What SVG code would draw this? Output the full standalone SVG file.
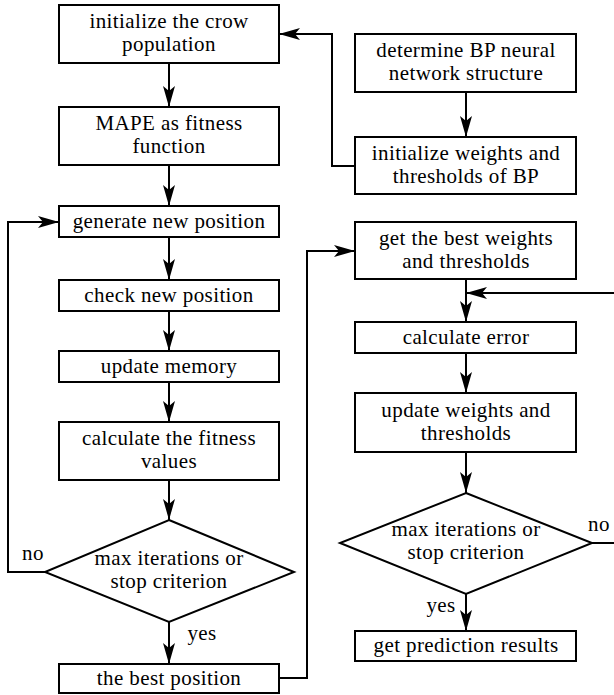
<svg xmlns="http://www.w3.org/2000/svg" width="614" height="695" viewBox="0 0 614 695">
<style>
.b{fill:#fff;stroke:#000;stroke-width:2}
.t{font-size:21px;letter-spacing:0.4px;fill:#000;text-anchor:middle}
.c{fill:none;stroke:#000;stroke-width:2;marker-end:url(#ah)}
</style>
<defs>
<marker id="ah" markerWidth="22" markerHeight="14" refX="21" refY="7" orient="auto" markerUnits="userSpaceOnUse">
<path d="M0,1 L21,7 L0,13 L5,7 Z" fill="#000"/>
</marker>
</defs>
<rect width="614" height="695" fill="#fff"/>
<g id="connectors">
<path class="c" d="M169,63 V107"/>
<path class="c" d="M169,165 V206"/>
<path class="c" d="M169,237 V280"/>
<path class="c" d="M169,311 V351"/>
<path class="c" d="M169,382 V422"/>
<path class="c" d="M169,480 V520"/>
<path class="c" d="M169,622 V664"/>
<path class="c" d="M45,572 H8 V222 H59"/>
<path class="c" d="M355,166 H332 V34 H279"/>
<path class="c" d="M466,92 V137"/>
<path class="c" d="M279,678 H307 V251 H355"/>
<path class="c" d="M466,279 V322"/>
<path class="c" d="M592,543 H616 V293 H466"/>
<path class="c" d="M466,353 V393"/>
<path class="c" d="M466,452 V493"/>
<path class="c" d="M466,594 V631"/>
</g>
<g font-family="Liberation Serif, Tinos, DejaVu Serif, Noto Serif, FreeSerif, Times New Roman, serif">
<g id="n1"><rect class="b" x="59" y="5" width="220" height="58"/><text class="t" x="169" y="28">initialize the crow</text><text class="t" x="169" y="51">population</text></g>
<g id="n2"><rect class="b" x="59" y="107" width="220" height="58"/><text class="t" x="169" y="130">MAPE as fitness</text><text class="t" x="169" y="153">function</text></g>
<g id="n3"><rect class="b" x="59" y="206" width="220" height="31"/><text class="t" x="169" y="228">generate new position</text></g>
<g id="n4"><rect class="b" x="59" y="280" width="220" height="31"/><text class="t" x="169" y="302">check new position</text></g>
<g id="n5"><rect class="b" x="59" y="351" width="220" height="31"/><text class="t" x="169" y="373">update memory</text></g>
<g id="n6"><rect class="b" x="59" y="422" width="220" height="58"/><text class="t" x="169" y="445">calculate the fitness</text><text class="t" x="169" y="468">values</text></g>
<g id="d1"><path class="b" d="M169,520 L294,572 L169,622 L45,572 Z"/><text class="t" x="169" y="565">max iterations or</text><text class="t" x="169" y="588">stop criterion</text></g>
<g id="n7"><rect class="b" x="59" y="664" width="220" height="29"/><text class="t" x="169" y="685">the best position</text></g>
<g id="n8"><rect class="b" x="355" y="34" width="221" height="58"/><text class="t" x="466" y="57">determine BP neural</text><text class="t" x="466" y="80">network structure</text></g>
<g id="n9"><rect class="b" x="355" y="137" width="221" height="57"/><text class="t" x="466" y="160">initialize weights and</text><text class="t" x="466" y="183">thresholds of BP</text></g>
<g id="n10"><rect class="b" x="355" y="222" width="221" height="57"/><text class="t" x="466" y="245">get the best weights</text><text class="t" x="466" y="268">and thresholds</text></g>
<g id="n11"><rect class="b" x="355" y="322" width="221" height="31"/><text class="t" x="466" y="344">calculate error</text></g>
<g id="n12"><rect class="b" x="355" y="393" width="221" height="59"/><text class="t" x="466" y="417">update weights and</text><text class="t" x="466" y="440">thresholds</text></g>
<g id="d2"><path class="b" d="M466,493 L592,543 L466,594 L340,543 Z"/><text class="t" x="466" y="536">max iterations or</text><text class="t" x="466" y="559">stop criterion</text></g>
<g id="n13"><rect class="b" x="355" y="631" width="221" height="30"/><text class="t" x="466" y="652">get prediction results</text></g>
<g id="labels">
<text class="t" x="33" y="560">no</text>
<text class="t" x="202" y="640">yes</text>
<text class="t" x="599" y="531">no</text>
<text class="t" x="441" y="612">yes</text>
</g>
</g>
</svg>
